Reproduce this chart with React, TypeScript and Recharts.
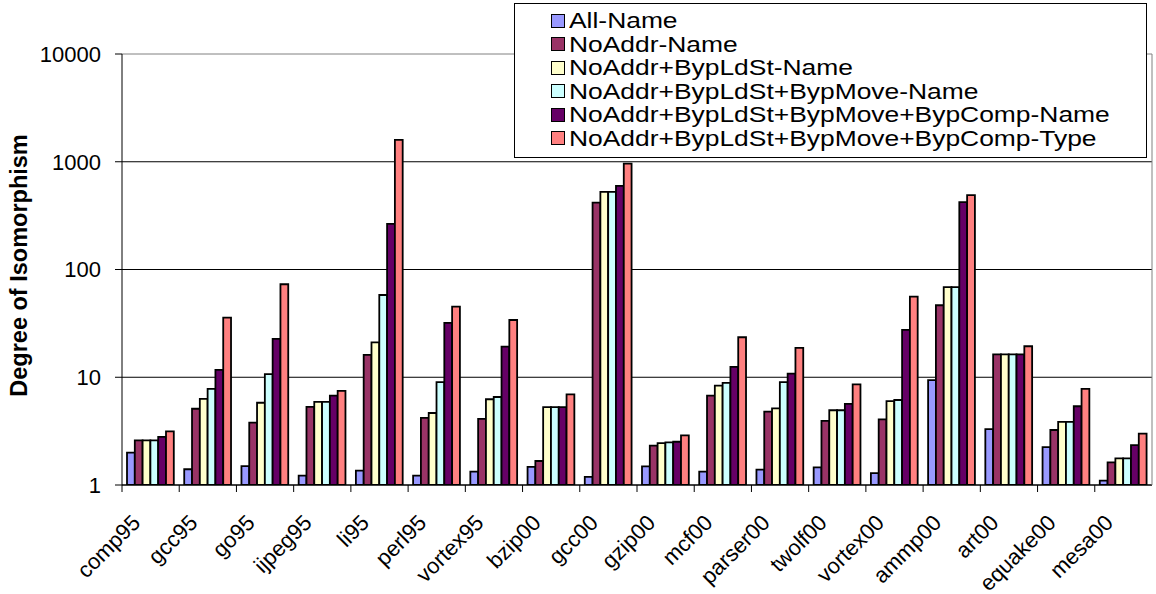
import React from 'react';
import { BarChart, Bar, XAxis, YAxis, CartesianGrid, Legend } from 'recharts';

// Benchmarks on the category axis
const categories = [
  'comp95', 'gcc95', 'go95', 'ijpeg95', 'li95', 'perl95', 'vortex95', 'bzip00', 'gcc00',
  'gzip00', 'mcf00', 'parser00', 'twolf00', 'vortex00', 'ammp00', 'art00', 'equake00', 'mesa00',
];

// Degree of isomorphism per configuration
const allName = [2.0, 1.4, 1.5, 1.22, 1.36, 1.22, 1.33, 1.47, 1.19, 1.49, 1.33, 1.39, 1.46, 1.29, 9.4, 3.3, 2.25, 1.1];
const noAddrName = [2.6, 5.1, 3.8, 5.3, 16.1, 4.2, 4.1, 1.67, 418, 2.32, 6.75, 4.8, 3.93, 4.07, 46.6, 16.3, 3.24, 1.62];
const bypLdStName = [2.6, 6.3, 5.8, 5.9, 21.1, 4.66, 6.25, 5.27, 526, 2.45, 8.35, 5.15, 4.94, 6.0, 68.5, 16.3, 3.85, 1.77];
const bypMoveName = [2.6, 7.8, 10.7, 5.9, 58, 9.0, 6.56, 5.27, 526, 2.49, 8.85, 9.0, 4.94, 6.15, 68.5, 16.3, 3.85, 1.77];
const bypCompName = [2.8, 11.7, 22.7, 6.75, 265, 31.9, 19.2, 5.27, 598, 2.52, 12.5, 10.8, 5.65, 27.5, 422, 16.3, 5.38, 2.34];
const bypCompType = [3.15, 35.7, 73, 7.46, 1597, 45.3, 34, 6.95, 962, 2.89, 23.5, 18.7, 8.6, 56, 490, 19.4, 7.8, 3.0];

const yTicks = [1, 10, 100, 1000, 10000];

const series = [
  { key: 'allName', name: 'All-Name', color: '#9999FF', values: allName },
  { key: 'noAddrName', name: 'NoAddr-Name', color: '#993366', values: noAddrName },
  { key: 'bypLdStName', name: 'NoAddr+BypLdSt-Name', color: '#FFFFCC', values: bypLdStName },
  { key: 'bypMoveName', name: 'NoAddr+BypLdSt+BypMove-Name', color: '#CCFFFF', values: bypMoveName },
  { key: 'bypCompName', name: 'NoAddr+BypLdSt+BypMove+BypComp-Name', color: '#660066', values: bypCompName },
  { key: 'bypCompType', name: 'NoAddr+BypLdSt+BypMove+BypComp-Type', color: '#FF8080', values: bypCompType },
];

const data = categories.map((name, i) => {
  const row: Record<string, string | number> = { name };
  series.forEach((s) => {
    row[s.key] = s.values[i];
  });
  return row;
});

const FONT = '"Liberation Sans", Arial, Helvetica, sans-serif';

// Category label rotated 45 degrees, plus a tick mark on the left edge of its band
const CategoryTick = (props: any) => {
  const { x, y, payload } = props;
  const half = payload && typeof payload.offset === 'number' ? payload.offset : 0;
  const px = x - 9;
  const py = y + 39;
  return (
    <g>
      <line x1={x - half} y1={y} x2={x - half} y2={y + 7} stroke="#000" strokeWidth={1} />
      <text
        x={px}
        y={py}
        transform={`rotate(-45, ${px}, ${py})`}
        textAnchor="end"
        fontSize={22}
        fontFamily={FONT}
        fill="#000"
      >
        {payload.value}
      </text>
    </g>
  );
};

const AxisTitle = (props: any) => {
  const { viewBox } = props;
  const x = viewBox.x + 5;
  const y = viewBox.y + viewBox.height / 2 - 4;
  return (
    <text
      x={x}
      y={y}
      transform={`rotate(-90, ${x}, ${y})`}
      textAnchor="middle"
      fontSize={23.5}
      fontWeight="bold"
      fontFamily={FONT}
      fill="#000"
    >
      Degree of Isomorphism
    </text>
  );
};

// Gridlines are black; the topmost one doubles as the grey plot frame
const GridLine = (props: any) => {
  const { x1, y1, x2, y2, y } = props;
  const isTop = Math.abs(y1 - y) < 0.5;
  return <line x1={x1} y1={y1} x2={x2} y2={y2} stroke={isTop ? '#808080' : '#000'} strokeWidth={1} />;
};

const LegendBox = () => (
  <div
    style={{
      boxSizing: 'border-box',
      width: 633,
      height: 155,
      border: '1px solid #000',
      background: '#fff',
      paddingTop: 5,
      paddingLeft: 36,
      fontFamily: FONT,
      fontSize: 22,
      color: '#000',
    }}
  >
    {series.map((s) => (
      <div key={s.key} style={{ display: 'flex', alignItems: 'center', height: 23.5 }}>
        <span
          style={{
            display: 'inline-block',
            boxSizing: 'border-box',
            width: 14,
            height: 14,
            border: '1.5px solid #000',
            background: s.color,
            marginRight: 4,
            flex: '0 0 auto',
          }}
        />
        <span
          style={{
            display: 'inline-block',
            whiteSpace: 'nowrap',
            lineHeight: '23.5px',
            transform: 'scaleX(1.2)',
            transformOrigin: 'left center',
          }}
        >
          {s.name}
        </span>
      </div>
    ))}
  </div>
);

export default function App() {
  return (
    <div style={{ position: 'absolute', left: 0, top: 0, fontFamily: FONT }}>
      <BarChart
        width={1156}
        height={594}
        data={data}
        margin={{ top: 54, right: 3, bottom: 9, left: 22 }}
        barGap={0}
        barSize={7.8}
      >
        <CartesianGrid horizontal={GridLine} vertical={false} />
        <XAxis
          dataKey="name"
          height={100}
          interval={0}
          axisLine={{ stroke: '#000', strokeWidth: 1 }}
          tickLine={false}
          tickSize={0}
          tickMargin={0}
          tick={<CategoryTick />}
        />
        <YAxis
          scale="log"
          domain={[1, 10000]}
          ticks={yTicks}
          allowDataOverflow
          width={100}
          interval={0}
          axisLine={{ stroke: '#000', strokeWidth: 1 }}
          tickLine={{ stroke: '#000', strokeWidth: 1 }}
          tickSize={7}
          tickMargin={14}
          tick={{ fill: '#000', fontSize: 22, fontFamily: FONT }}
          tickFormatter={(v: number) => String(v)}
          label={{ content: <AxisTitle /> }}
        />
        <YAxis
          yAxisId="frame"
          orientation="right"
          type="number"
          domain={[0, 1]}
          ticks={[]}
          width={1}
          tick={false}
          tickLine={false}
          axisLine={{ stroke: '#808080', strokeWidth: 1 }}
        />
        <Legend
          content={<LegendBox />}
          layout="vertical"
          align="center"
          verticalAlign="middle"
          wrapperStyle={{ left: 514, top: 3, width: 633, height: 155 }}
        />
        {series.map((s) => (
          <Bar
            key={s.key}
            dataKey={s.key}
            name={s.name}
            fill={s.color}
            stroke="#000"
            strokeWidth={1.8}
            isAnimationActive={false}
          />
        ))}
      </BarChart>
    </div>
  );
}
